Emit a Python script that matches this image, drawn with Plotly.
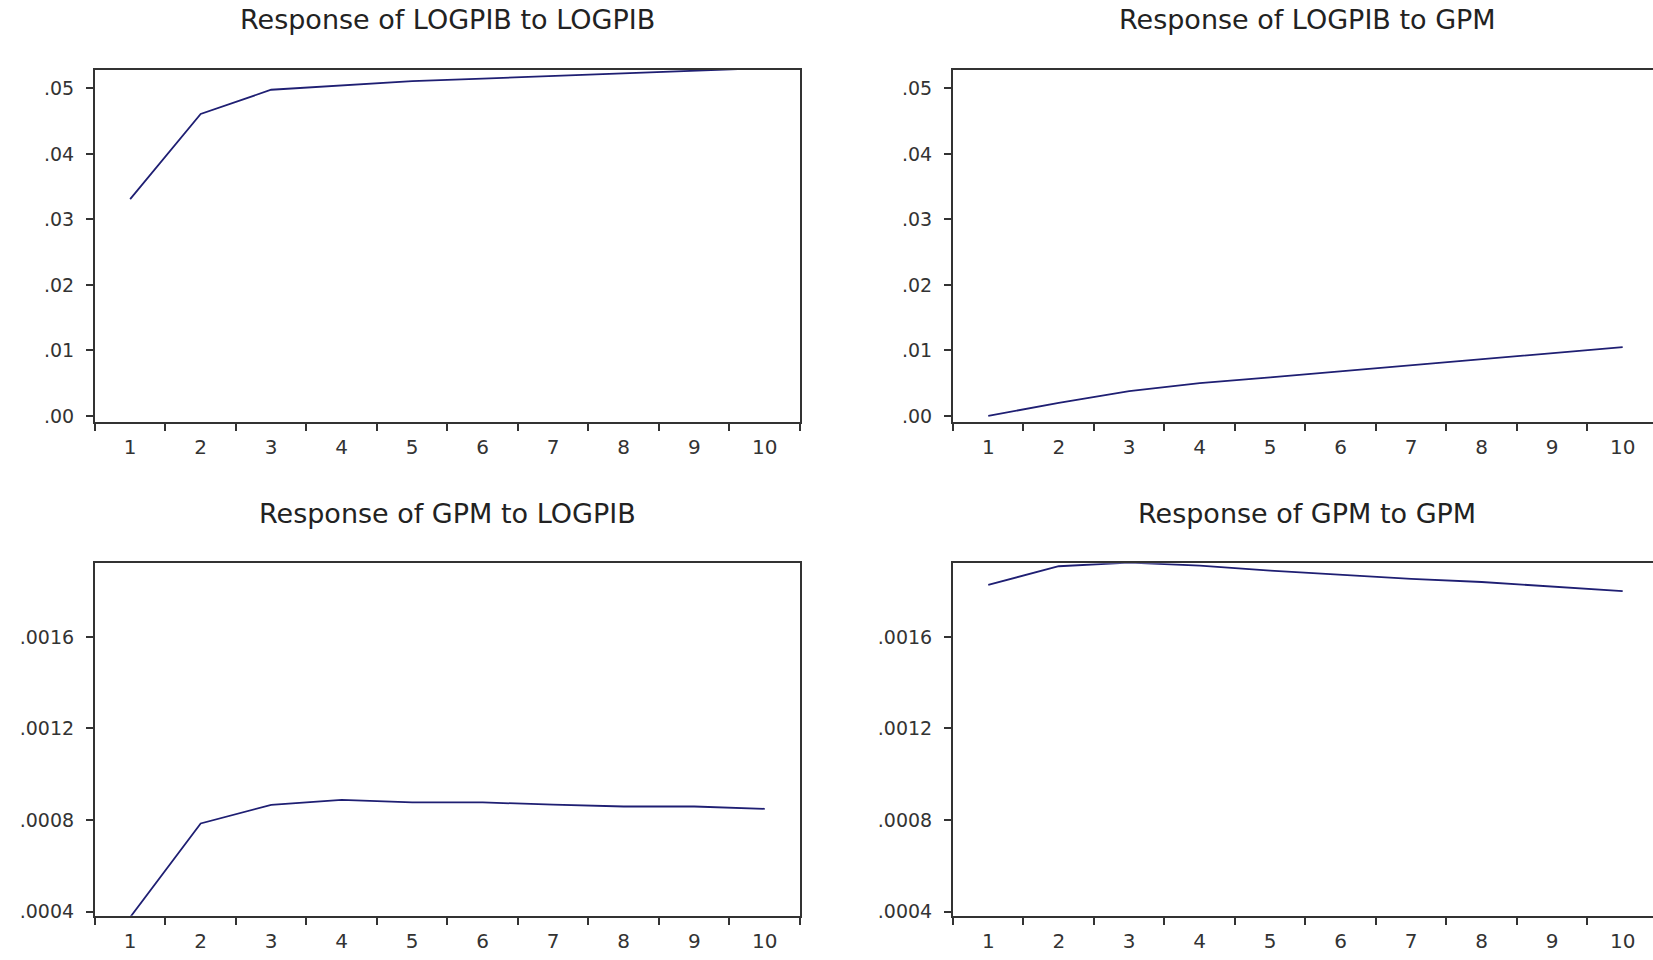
import plotly.graph_objects as go

# ---------------- data ----------------
periods = ["1", "2", "3", "4", "5", "6", "7", "8", "9", "10"]

logpib_to_logpib = [0.0331, 0.0461, 0.0498, 0.0505, 0.0511, 0.0515, 0.0519, 0.0522, 0.0527, 0.0531]
logpib_to_gpm = [0.0000, 0.0020, 0.0038, 0.0050, 0.0059, 0.0068, 0.0077, 0.0086, 0.0095, 0.0105]
gpm_to_logpib = [0.000375, 0.000785, 0.000866, 0.000888, 0.000877, 0.000877, 0.000867, 0.000859, 0.000859, 0.000849]
gpm_to_gpm = [0.001828, 0.001909, 0.001925, 0.001912, 0.001890, 0.001871, 0.001854, 0.001840, 0.001821, 0.001800]

titles = ["Response of LOGPIB to LOGPIB", "Response of LOGPIB to GPM",
          "Response of GPM to LOGPIB", "Response of GPM to GPM"]

top_tickvals = [0.00, 0.01, 0.02, 0.03, 0.04, 0.05]
top_ticktext = [".00", ".01", ".02", ".03", ".04", ".05"]
bot_tickvals = [0.0004, 0.0008, 0.0012, 0.0016]
bot_ticktext = [".0004", ".0008", ".0012", ".0016"]

# ---------------- layout geometry ----------------
W, H = 1653, 960
xl = [94.9 / W, 800 / W]
xr = [953 / W, 1.0]
yt = [1 - 424.8 / H, 1 - 70.6 / H]
yb = [1 - 922.4 / H, 1 - 567.4 / H]

LINE = "#1f1f73"
AX = "#333333"
FONT = "DejaVu Sans"

fig = go.Figure()
series = [logpib_to_logpib, logpib_to_gpm, gpm_to_logpib, gpm_to_gpm]
for i, s in enumerate(series):
    suffix = "" if i == 0 else str(i + 1)
    fig.add_trace(go.Scatter(x=periods, y=s, mode="lines",
                             line=dict(color=LINE, width=1.8),
                             xaxis="x" + suffix, yaxis="y" + suffix,
                             showlegend=False, hoverinfo="x+y"))


def xaxis(domain, anchor, rng):
    return dict(domain=domain, anchor=anchor, type="category",
                categoryorder="array", categoryarray=periods,
                range=rng, tickson="boundaries", ticks="outside",
                ticklen=7, tickwidth=2, tickcolor=AX,
                showline=True, linecolor=AX, linewidth=2, mirror=True,
                showgrid=False, zeroline=False, ticklabelstandoff=6,
                tickfont=dict(family=FONT, size=20, color=AX), fixedrange=True)


def yaxis(domain, anchor, rng, tv, tt, mirror):
    return dict(domain=domain, anchor=anchor, range=rng,
                tickmode="array", tickvals=tv, ticktext=tt,
                ticks="outside", ticklen=7, tickwidth=2, tickcolor=AX,
                showline=True, linecolor=AX, linewidth=2, mirror=mirror,
                showgrid=False, zeroline=False, ticklabelstandoff=8,
                tickfont=dict(family=FONT, size=19, color=AX), fixedrange=True)


top_range = [-0.00088, 0.0528]
bot_range = [0.000382, 0.001922]

fig.update_layout(
    width=W, height=H,
    margin=dict(l=0, r=0, t=0, b=0),
    paper_bgcolor="white", plot_bgcolor="white",
    xaxis=xaxis(xl, "y", [-0.5, 9.5]),
    yaxis=yaxis(yt, "x", top_range, top_tickvals, top_ticktext, True),
    xaxis2=xaxis(xr, "y2", [-0.5, 9.43]),
    yaxis2=yaxis(yt, "x2", top_range, top_tickvals, top_ticktext, False),
    xaxis3=xaxis(xl, "y3", [-0.5, 9.5]),
    yaxis3=yaxis(yb, "x3", bot_range, bot_tickvals, bot_ticktext, True),
    xaxis4=xaxis(xr, "y4", [-0.5, 9.43]),
    yaxis4=yaxis(yb, "x4", bot_range, bot_tickvals, bot_ticktext, False),
)

title_pos = [(447.5, 20), (1307, 20), (447.5, 517), (1307, 517)]
for t, (px, py) in zip(titles, title_pos):
    fig.add_annotation(text=t, x=px / W, y=1 - py / H, xref="paper", yref="paper",
                       xanchor="center", yanchor="middle", showarrow=False,
                       font=dict(family=FONT, size=27, color="#222222"))

fig.write_html("out.html", config={"displayModeBar": False},
               post_script="document.body.style.margin='0px';document.body.style.overflow='hidden';")
